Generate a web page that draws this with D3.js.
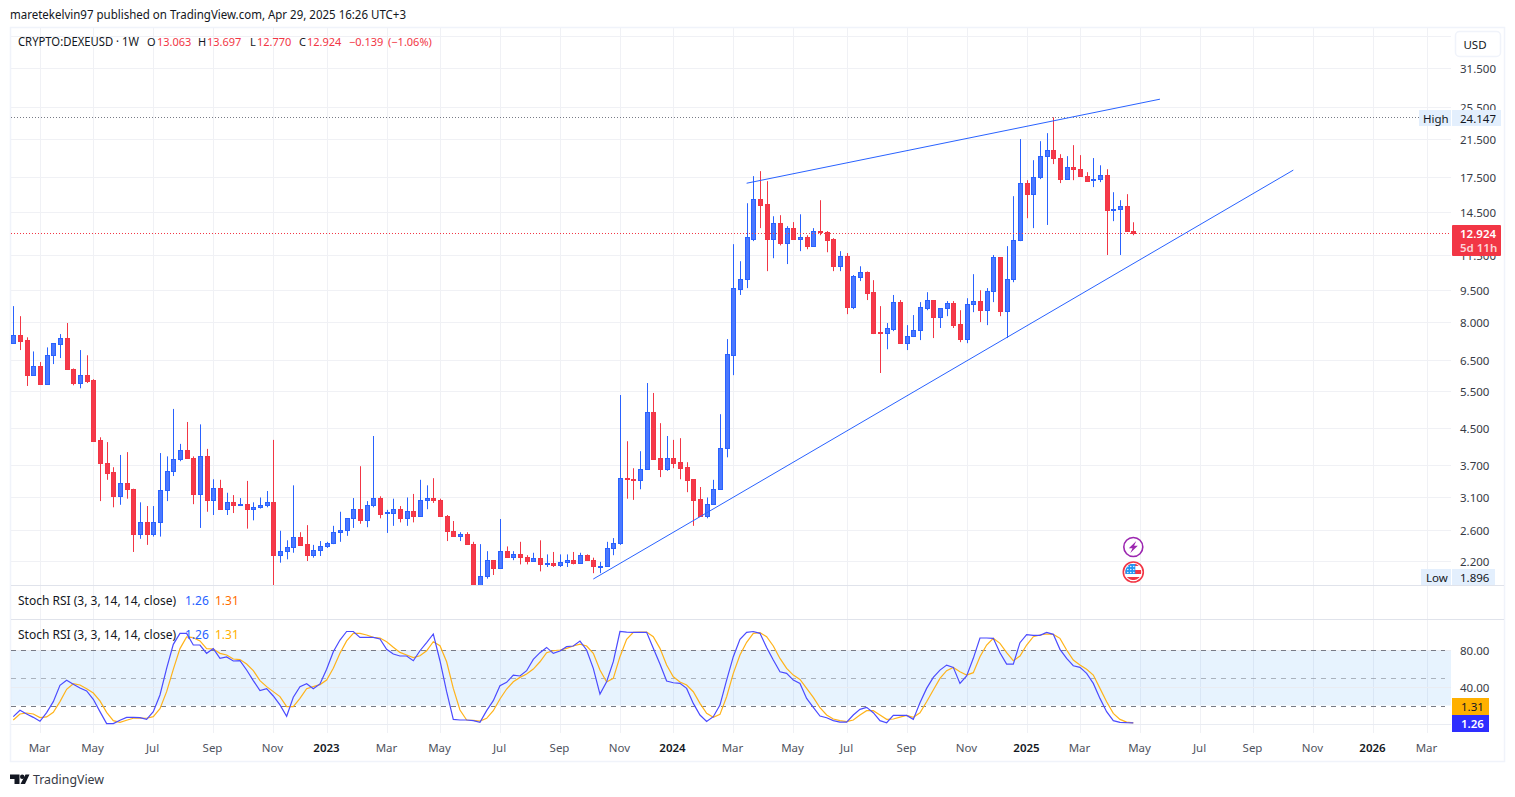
<!DOCTYPE html>
<html>
<head>
  <meta charset="utf-8">
  <title>CRYPTO:DEXEUSD 1W</title>
  <script src="https://d3js.org/d3.v7.min.js"></script>
  <style>
    html, body { margin: 0; padding: 0; background: #fff; }
    svg { display: block; }
    text { font-family: "Noto Sans", sans-serif; font-size: 12px; fill: #131722; }
  </style>
</head>
<body>
  <svg id="chart"></svg>

  <script>
    // weekly candles, first one is the week of Feb 7 2022
    const firstWeek = "2022-02-07";
    const lastWeek = "2025-04-28";

    const opens = [
      7.15,7.44,7.25,6.01,6.29,5.72,6.68,7.10,7.32,6.21,
      5.76,5.99,5.84,4.22,3.74,3.56,3.13,3.36,3.24,2.55,
      2.71,2.54,2.72,3.22,3.57,3.81,4.00,3.84,3.16,3.87,
      3.05,3.27,2.92,3.02,2.97,3.00,2.92,2.94,2.97,3.02,
      2.27,2.32,2.37,2.51,2.41,2.27,2.34,2.38,2.42,2.57,
      2.60,2.77,2.92,2.75,2.98,3.09,2.85,2.85,2.92,2.78,
      2.88,2.81,3.05,3.09,3.05,2.81,2.59,2.52,2.55,2.41,
      1.92,2.03,2.21,2.12,2.32,2.25,2.28,2.25,2.20,2.24,
      2.16,2.18,2.15,2.19,2.21,2.18,2.27,2.21,2.13,2.14,
      2.36,2.43,3.44,3.43,3.41,3.61,4.91,3.83,3.62,3.83,
      3.75,3.65,3.42,3.08,2.81,3.00,3.25,4.05,6.69,9.55,
      10.07,12.52,15.49,15.10,12.52,13.61,12.22,13.25,12.52,12.62,
      12.04,13.06,13.03,12.50,10.80,11.40,8.68,10.21,10.45,9.39,
      7.57,7.54,7.70,8.89,7.13,7.40,7.64,8.62,8.98,8.23,
      8.61,8.84,7.90,7.29,8.79,8.93,8.52,9.43,11.34,8.48,
      10.11,12.42,16.89,15.97,17.45,19.54,20.18,19.37,17.32,18.50,
      18.24,17.6,17.22,17.29,17.64,14.64,14.70,14.92,13.063
    ];
    const highs = [
      8.71,8.25,7.36,6.82,6.44,6.97,7.13,7.49,7.95,6.22,
      6.87,6.68,5.87,4.29,4.18,3.65,3.90,3.96,3.25,3.02,
      2.96,2.96,3.94,3.87,5.00,4.14,4.66,3.87,4.60,4.03,
      3.42,3.41,3.18,3.14,3.09,3.39,3.02,3.10,3.21,4.23,
      2.59,2.46,3.31,2.57,2.67,2.40,2.45,2.44,2.66,2.87,
      2.77,3.09,3.67,3.04,4.32,3.12,2.90,3.08,2.96,3.10,
      3.16,3.41,3.31,3.44,3.08,2.82,2.73,2.57,2.57,2.44,
      2.41,2.32,2.21,2.76,2.38,2.32,2.44,2.27,2.30,2.46,
      2.28,2.31,2.28,2.28,2.31,2.30,2.28,2.24,2.19,2.44,
      2.49,5.39,4.20,3.63,3.98,5.75,5.45,4.63,4.32,4.23,
      4.27,3.75,3.42,3.28,3.10,3.41,4.86,7.29,12.17,11.10,
      15.18,17.57,18.05,17.10,14.15,14.23,13.41,13.71,14.30,12.77,
      13.27,15.43,13.06,12.57,11.72,11.60,10.30,10.80,10.50,10.02,
      8.71,7.95,9.25,9.00,7.86,8.30,8.90,9.39,9.00,8.62,
      8.95,8.95,8.52,9.09,10.35,9.49,9.60,11.48,11.35,12.04,
      15.77,21.46,17.19,19.15,21.22,22.16,24.147,19.78,19.57,20.77,
      19.68,17.95,19.37,18.63,18.24,16.11,15.43,15.94,13.697
    ];
    const lows = [
      7.10,6.87,5.66,6.01,5.72,5.72,6.37,6.58,6.20,5.68,
      5.59,5.75,4.20,3.04,3.41,2.94,2.98,3.08,2.31,2.48,
      2.40,2.51,2.51,3.04,3.48,3.77,3.84,2.99,2.63,2.87,
      2.82,2.91,2.82,2.85,2.96,2.62,2.74,2.92,2.94,1.896,
      2.18,2.22,2.30,2.39,2.20,2.24,2.26,2.36,2.41,2.44,
      2.52,2.63,2.69,2.64,2.94,2.77,2.56,2.66,2.71,2.66,
      2.71,2.81,2.91,3.01,2.79,2.45,2.51,2.45,2.41,1.90,
      1.896,2.00,2.04,2.12,2.25,2.21,2.16,2.16,2.19,2.08,
      2.13,2.13,2.13,2.13,2.16,2.18,2.20,2.06,2.06,2.13,
      2.27,2.40,3.08,3.06,3.24,3.61,3.81,3.46,3.58,3.63,
      3.42,3.19,2.66,2.81,2.77,2.98,3.24,3.85,6.00,9.25,
      9.60,12.37,13.27,10.52,11.28,12.09,10.93,12.52,11.72,11.84,
      12.04,12.77,11.65,10.52,10.52,8.34,8.57,9.97,9.0,7.49,
      6.07,6.90,7.61,7.13,6.87,7.37,7.25,8.52,7.33,7.74,
      8.25,7.74,7.17,7.13,8.43,7.99,7.86,8.90,8.25,7.33,
      9.91,12.37,14.0,13.27,17.29,13.50,18.75,16.92,17.29,17.19,
      17.57,17.10,16.56,17.01,11.48,13.78,11.48,13.0,12.77
    ];
    const closes = [
      7.44,7.22,6.01,6.29,5.72,6.68,7.12,7.32,6.21,5.76,
      5.99,5.82,4.21,3.74,3.54,3.13,3.36,3.24,2.55,2.71,
      2.54,2.72,3.22,3.57,3.81,4.00,3.84,3.16,3.87,3.05,
      3.27,2.92,3.02,2.97,3.00,2.92,2.94,2.97,3.02,2.27,
      2.32,2.37,2.51,2.40,2.27,2.34,2.38,2.42,2.57,2.60,
      2.77,2.92,2.75,2.98,3.09,2.84,2.87,2.92,2.78,2.88,
      2.81,3.05,3.09,3.05,2.81,2.59,2.52,2.55,2.41,1.92,
      2.03,2.21,2.12,2.32,2.25,2.28,2.25,2.20,2.24,2.16,
      2.18,2.15,2.19,2.21,2.18,2.27,2.21,2.14,2.14,2.36,
      2.43,3.44,3.42,3.41,3.61,4.91,3.82,3.62,3.83,3.74,
      3.64,3.41,3.06,2.81,3.00,3.25,4.06,6.71,9.58,10.07,
      12.62,15.49,15.0,12.52,13.61,12.22,13.25,12.52,12.62,12.04,
      13.04,13.0,12.46,10.80,11.40,8.68,10.24,10.45,9.36,7.53,
      7.54,7.73,8.89,7.13,7.40,7.64,8.65,8.98,8.21,8.61,
      8.84,7.86,7.29,8.79,8.93,8.52,9.43,11.34,8.48,10.11,
      12.42,16.89,15.97,17.45,19.54,20.18,19.37,17.32,18.50,18.24,
      17.6,17.13,17.29,17.64,14.64,14.70,14.92,13.06,12.924
    ];

    // stoch rsi, %K and %D, one value per week
    const stochK = [
      8.0,14.8,10.8,7.2,2.9,12.3,24.2,41.8,47.2,42.9,
      38.9,35.7,26.7,13.4,0.4,0.4,4.0,7.2,7.2,6.9,
      5.1,13.4,31.4,60.2,86.1,98.0,98.0,85.4,85.4,76.4,
      81.5,71.0,72.5,68.1,68.5,58.4,46.9,36.1,38.2,30.3,
      20.6,8.3,28.9,40.4,43.6,38.2,43.3,59.1,78.2,90.8,
      100,100,93.7,93.7,93.7,91.9,80.7,75.7,73.5,73.5,
      68.4,79.2,87.9,97.3,68.4,34.9,5.0,4.3,4.3,3.6,
      1.8,14.4,25.2,41.4,45.0,52.9,51.9,57.6,69.9,77.1,
      82.8,76.4,78.9,83.6,84.3,89.7,80.0,60.1,32.4,45.7,
      67.4,100,99.4,99.1,99.1,99.1,81.8,64.8,46.4,44.6,
      43.9,38.5,22.3,9.7,2.8,7.9,20.5,47.5,72.8,91.5,
      99.1,100,98.0,82.8,69.1,56.5,54.7,47.5,43.9,27.7,
      18.0,8.6,6.8,3.6,2.1,2.1,9.7,15.8,18.0,12.2,
      3.6,1.4,9.3,9.3,9.3,5.0,23.0,38.5,50.4,58.3,
      63.7,61.2,43.9,51.9,71.0,93.0,93.0,92.6,77.1,64.8,
      64.8,87.9,96.5,95.8,95.8,99.1,96.9,80.7,70.9,63.0,
      61.2,54.7,43.9,27.7,13.3,3.6,1.8,1.4,1.26
    ];
    const stochD = [
      4.3,10.8,11.9,10.8,6.9,7.6,12.6,24.2,37.5,43.6,
      42.2,38.2,33.5,24.9,12.6,3.6,1.8,4.0,6.2,6.5,
      6.2,8.0,16.6,35.0,59.1,81.5,94.1,93.4,89.8,81.5,
      81.1,76.4,74.6,70.3,69.6,64.9,57.7,46.9,40.4,35.0,
      29.6,18.8,18.8,27.8,38.2,40.4,42.6,47.6,60.2,76.4,
      89.8,98.0,98.0,96.2,93.7,93.0,89.0,82.9,77.4,74.6,
      71.7,73.8,79.2,89.0,84.6,67.3,38.5,15.1,4.3,3.9,
      3.2,6.1,14.4,27.0,37.8,45.7,50.4,54.0,59.4,67.3,
      77.1,79.2,80.0,81.8,84.3,86.4,84.3,76.4,58.3,45.4,
      49.3,72.8,91.5,99.1,99.4,99.4,94.4,81.8,63.7,51.1,
      45.4,42.1,34.9,22.3,11.5,7.2,10.4,29.5,54.7,74.6,
      88.3,98.0,98.7,94.4,84.3,70.9,60.1,52.9,48.2,38.5,
      28.8,17.6,9.7,5.4,3.6,2.5,4.3,9.7,14.4,14.4,
      9.7,5.0,5.4,7.5,9.3,7.2,12.2,24.1,36.7,49.3,
      57.6,61.2,56.5,52.9,55.5,72.8,85.4,92.6,87.2,77.1,
      68.4,73.5,85.4,94.4,96.2,97.3,96.9,92.6,80.0,69.1,
      63.7,59.1,52.9,38.5,24.1,11.5,5.0,2.1,1.31
    ];

    // 37.5 only has a grid line, its label sits under the USD button
    const gridPrices = [37.5, 31.5, 25.5, 21.5, 17.5, 14.5, 11.5, 9.5, 8, 6.5, 5.5, 4.5, 3.7, 3.1, 2.6, 2.2];
    const priceTicks = [31.5, 25.5, 21.5, 17.5, 14.5, 11.5, 9.5, 8, 6.5, 5.5, 4.5, 3.7, 3.1, 2.6, 2.2];
    const stochTicks = [80, 40, 0];
    const stochLabelTicks = [80, 40];
    const stochBands = [80, 50, 20];

    const tickDates = [
      "2022-03-07","2022-05-02","2022-07-04","2022-09-05","2022-11-07","2023-01-02",
      "2023-03-06","2023-05-01","2023-07-03","2023-09-04","2023-11-06","2024-01-01",
      "2024-03-04","2024-05-06","2024-07-01","2024-09-02","2024-11-04","2025-01-06",
      "2025-03-03","2025-05-05","2025-07-07","2025-09-01","2025-11-03","2026-01-05","2026-03-02"
    ];
    const tickLabels = [
      "Mar","May","Jul","Sep","Nov","2023","Mar","May","Jul","Sep","Nov","2024",
      "Mar","May","Jul","Sep","Nov","2025","Mar","May","Jul","Sep","Nov","2026","Mar"
    ];

    // the two drawn trend lines
    const upperLineDates = ["2024-03-18", "2025-05-26"];
    const upperLinePrices = [16.91, 26.62];
    const lowerLineDates = ["2023-10-09", "2025-10-13"];
    const lowerLinePrices = [1.996, 18.15];

    const highPrice = 24.147;
    const lowPrice = 1.896;
    const lastClose = 12.924;
    const lastK = 1.26;
    const lastD = 1.31;

    const blue = "#2962ff", red = "#f23645", gridColor = "#f0f1f5", paneLine = "#e0e3eb";
    const width = 1515, height = 797;
    const paneLeft = 11, paneRight = 1451;

    const svg = d3.select("#chart").attr("width", width).attr("height", height);
    const parseDay = d3.utcParse("%Y-%m-%d");

    const x = d3.scaleUtc()
      .domain([parseDay(firstWeek), parseDay(lastWeek)])
      .range([13.3, 1133.3]);
    const y = d3.scaleLog().domain([2.2, 31.5]).range([561, 68]);
    const yStoch = d3.scaleLinear().domain([0, 100]).range([724, 631.5]);

    const weeks = closes.map((c, i) => d3.utcWeek.offset(parseDay(firstWeek), i));
    const ticks = tickDates.map((d, i) => ({ x: Math.round(x(parseDay(d))) + 0.5, label: tickLabels[i] }));

    svg.append("clipPath").attr("id", "mainClip").append("rect")
      .attr("x", paneLeft).attr("y", 28).attr("width", paneRight - paneLeft).attr("height", 557);

    // grid
    svg.selectAll(".vgrid").data(ticks).enter().append("line")
      .attr("x1", d => d.x).attr("x2", d => d.x)
      .attr("y1", 28).attr("y2", 733)
      .attr("stroke", gridColor);
    svg.selectAll(".hgrid").data(gridPrices).enter().append("line")
      .attr("x1", paneLeft).attr("x2", paneRight)
      .attr("y1", d => Math.round(y(d)) + 0.5).attr("y2", d => Math.round(y(d)) + 0.5)
      .attr("stroke", gridColor);

    // frame and pane separators
    svg.append("rect")
      .attr("x", 10.5).attr("y", 27.5).attr("width", 1494).attr("height", 734)
      .attr("fill", "none").attr("stroke", "#f0f3fa").attr("stroke-width", 1.5);
    [585.5, 619.5].forEach(v => {
      svg.append("line").attr("x1", paneLeft).attr("x2", 1504)
        .attr("y1", v).attr("y2", v).attr("stroke", paneLine);
    });

    // last price and high dotted lines
    svg.append("line")
      .attr("x1", paneLeft).attr("x2", 1419)
      .attr("y1", Math.round(y(highPrice)) + 0.5).attr("y2", Math.round(y(highPrice)) + 0.5)
      .attr("stroke", "#787b86").attr("stroke-dasharray", "1 2");

    // candles
    const candles = svg.append("g").attr("clip-path", "url(#mainClip)")
      .selectAll(".candle").data(weeks).enter().append("g");
    const colorOf = i => closes[i] >= opens[i] ? blue : red;
    const fillOf = i => closes[i] >= opens[i] ? "#4a78ff" : "#f5394a";
    candles.append("line")
      .attr("x1", d => Math.round(x(d)) + 0.5).attr("x2", d => Math.round(x(d)) + 0.5)
      .attr("y1", (d, i) => y(highs[i])).attr("y2", (d, i) => y(lows[i]))
      .attr("stroke", (d, i) => colorOf(i));
    candles.append("rect")
      .attr("x", d => Math.round(x(d)) - 1.5)
      .attr("width", 4)
      .attr("y", (d, i) => Math.round(y(Math.max(opens[i], closes[i]))) + 0.5)
      .attr("height", (d, i) => Math.max(0, Math.round(y(Math.min(opens[i], closes[i]))) - Math.round(y(Math.max(opens[i], closes[i])))))
      .attr("fill", (d, i) => fillOf(i))
      .attr("stroke", (d, i) => colorOf(i));

    svg.append("line")
      .attr("x1", paneLeft).attr("x2", paneRight)
      .attr("y1", Math.round(y(lastClose)) + 0.5).attr("y2", Math.round(y(lastClose)) + 0.5)
      .attr("stroke", red).attr("stroke-dasharray", "1 2");

    // trend lines
    [[upperLineDates, upperLinePrices], [lowerLineDates, lowerLinePrices]].forEach(([ds, ps]) => {
      svg.append("line")
        .attr("x1", x(parseDay(ds[0]))).attr("y1", y(ps[0]))
        .attr("x2", x(parseDay(ds[1]))).attr("y2", y(ps[1]))
        .attr("stroke", blue).attr("stroke-width", 1);
    });

    // stoch rsi pane
    svg.append("rect")
      .attr("x", paneLeft).attr("width", paneRight - paneLeft)
      .attr("y", yStoch(80)).attr("height", yStoch(20) - yStoch(80))
      .attr("fill", "#2196f3").attr("fill-opacity", 0.11);
    stochTicks.forEach(t => {
      svg.append("line").attr("x1", paneLeft).attr("x2", paneRight)
        .attr("y1", Math.round(yStoch(t)) + 0.5).attr("y2", Math.round(yStoch(t)) + 0.5)
        .attr("stroke", "#e9ecf2");
    });
    stochBands.forEach(t => {
      svg.append("line").attr("x1", paneLeft).attr("x2", paneRight - 6)
        .attr("y1", Math.round(yStoch(t)) + 0.5).attr("y2", Math.round(yStoch(t)) + 0.5)
        .attr("stroke", "#787b86").attr("stroke-dasharray", "5 5")
        .attr("stroke-opacity", t === 50 ? 0.55 : 1);
    });
    const stochLine = values => d3.line()
      .x((d, i) => x(weeks[i]))
      .y((d, i) => yStoch(values[i]))(values);
    svg.append("path").attr("d", stochLine(stochD))
      .attr("fill", "none").attr("stroke", "#ffb31a").attr("stroke-width", 1.2);
    svg.append("path").attr("d", stochLine(stochK))
      .attr("fill", "none").attr("stroke", "#4b4bff").attr("stroke-width", 1.2);

    // time axis labels
    svg.selectAll(".tick").data(ticks).enter().append("text")
      .attr("x", d => d.x - 1).attr("y", 751.5)
      .attr("text-anchor", "middle")
      .style("fill", d => /^\d/.test(d.label) ? "#131722" : "#50535e")
      .style("font-weight", d => /^\d/.test(d.label) ? 600 : 400)
      .style("font-size", "11.5px")
      .text(d => d.label);

    // price axis labels
    svg.selectAll(".plabel").data(priceTicks).enter().append("text")
      .attr("x", 1460).attr("y", d => y(d) + 5)
      .style("fill", "#363a45").style("font-size", "11.5px")
      .text(d => d.toFixed(3));
    svg.selectAll(".slabel").data(stochLabelTicks).enter().append("text")
      .attr("x", 1460).attr("y", d => yStoch(d) + 4.5)
      .style("fill", "#363a45").style("font-size", "11.5px")
      .text(d => d.toFixed(2));

    function priceTag(x0, y0, w, h, bg, label, color, tx, weight) {
      svg.append("rect").attr("x", x0).attr("y", y0).attr("width", w).attr("height", h)
        .attr("fill", bg);
      svg.append("text").attr("x", tx).attr("y", y0 + h / 2 + 4.5)
        .style("fill", color).style("font-weight", weight || 400).style("font-size", "11.5px").text(label);
    }

    const tagBg = "#e3effd";
    priceTag(1419, 110, 32, 16, tagBg, "High", "#131722", 1423);
    priceTag(1452, 110, 49, 16, tagBg, highPrice.toFixed(3), "#131722", 1460);
    priceTag(1421, 569, 30, 16, tagBg, "Low", "#131722", 1426);
    priceTag(1452, 569, 43, 16, tagBg, lowPrice.toFixed(3), "#131722", 1460);

    svg.append("rect").attr("x", 1452).attr("y", 225).attr("width", 49).attr("height", 31)
      .attr("rx", 1).attr("fill", red);
    svg.append("text").attr("x", 1460).attr("y", 238).style("fill", "#fff").style("font-weight", 600)
      .style("font-size", "11.5px").text(lastClose.toFixed(3));
    svg.append("text").attr("x", 1460).attr("y", 252).style("fill", "#fcd2d6").style("font-weight", 600)
      .style("font-size", "11.5px").text("5d 11h");

    priceTag(1452, 698, 37, 17, "#ffb000", lastD.toFixed(2), "#131722", 1461);
    priceTag(1452, 715, 37, 17, "#2e2eff", lastK.toFixed(2), "#fff", 1461, 600);

    // currency button
    svg.append("rect").attr("x", 1455.5).attr("y", 31.5).attr("width", 45).attr("height", 25)
      .attr("rx", 4).attr("fill", "#fff").attr("stroke", "#f0f3fa").attr("stroke-width", 1.5);
    svg.append("text").attr("x", 1475).attr("y", 49).attr("text-anchor", "middle")
      .style("font-size", "11.5px").text("USD");

    // header and legend
    svg.append("text").attr("x", 10).attr("y", 19)
      .attr("textLength", 396).attr("lengthAdjust", "spacingAndGlyphs")
      .text("maretekelvin97 published on TradingView.com, Apr 29, 2025 16:26 UTC+3");
    svg.append("text").attr("x", 18).attr("y", 46)
      .attr("textLength", 121).attr("lengthAdjust", "spacingAndGlyphs")
      .text("CRYPTO:DEXEUSD · 1W");
    const legendBits = [
      ["O", 147, "#131722"], ["13.063", 157, red],
      ["H", 198, "#131722"], ["13.697", 207, red],
      ["L", 250, "#131722"], ["12.770", 257, red],
      ["C", 299, "#131722"], ["12.924", 307, red],
      ["−0.139", 349, red], ["(−1.06%)", 388, red]
    ];
    legendBits.forEach(b => {
      svg.append("text").attr("x", b[1]).attr("y", 46).style("fill", b[2]).style("font-size", "11px").text(b[0]);
    });

    [[605, "#ff6d00"], [639, "#ffb000"]].forEach(([ty, dColor]) => {
      svg.append("text").attr("x", 18).attr("y", ty).text("Stoch RSI (3, 3, 14, 14, close)");
      svg.append("text").attr("x", 185).attr("y", ty).style("fill", blue).text(lastK.toFixed(2));
      svg.append("text").attr("x", 215).attr("y", ty).style("fill", dColor).text(lastD.toFixed(2));
    });

    // event markers over the last candle
    const markerX = x(parseDay(lastWeek));
    const bolt = svg.append("g").attr("transform", `translate(${markerX},547)`);
    bolt.append("circle").attr("r", 9.5).attr("fill", "#fff").attr("stroke", "#9c27b0").attr("stroke-width", 1.6);
    bolt.append("path").attr("d", "M3 -6 L-4.5 1.2 L-0.8 1.2 L-3 6 L4.5 -1.2 L0.8 -1.2 Z").attr("fill", "#9c27b0");

    const flag = svg.append("g").attr("transform", `translate(${markerX},572)`);
    flag.append("circle").attr("r", 10).attr("fill", "#fff").attr("stroke", red).attr("stroke-width", 1.6);
    flag.append("clipPath").attr("id", "flagClip").append("circle").attr("r", 8.2);
    const flagInner = flag.append("g").attr("clip-path", "url(#flagClip)");
    flagInner.append("rect").attr("x", -8).attr("y", -2).attr("width", 16).attr("height", 4).attr("fill", red);
    flagInner.append("rect").attr("x", -8).attr("y", 5).attr("width", 16).attr("height", 3).attr("fill", red);
    flagInner.append("rect").attr("x", -8).attr("y", -8).attr("width", 16).attr("height", 2).attr("fill", red);
    flagInner.append("rect").attr("x", -8).attr("y", -8).attr("width", 10).attr("height", 10).attr("fill", "#2196f3");
    d3.range(3).forEach(r => d3.range(3).forEach(c => {
      flagInner.append("circle").attr("cx", -5.5 + c * 3).attr("cy", -5.5 + r * 3).attr("r", 0.7).attr("fill", "#fff");
    }));

    // logo and name
    svg.append("path").attr("d", "M10 774.5 H19.5 V784 H14.5 V779 H10 Z M25.5 774.5 H29.5 L25 784 H20.5 Z").attr("fill", "#131722");
    svg.append("circle").attr("cx", 22.2).attr("cy", 776.7).attr("r", 2.2).attr("fill", "#131722");
    svg.append("text").attr("x", 33).attr("y", 784).style("font-size", "13px").style("fill", "#363a45")
      .attr("textLength", 71).attr("lengthAdjust", "spacingAndGlyphs").text("TradingView");
  </script>
</body>
</html>
